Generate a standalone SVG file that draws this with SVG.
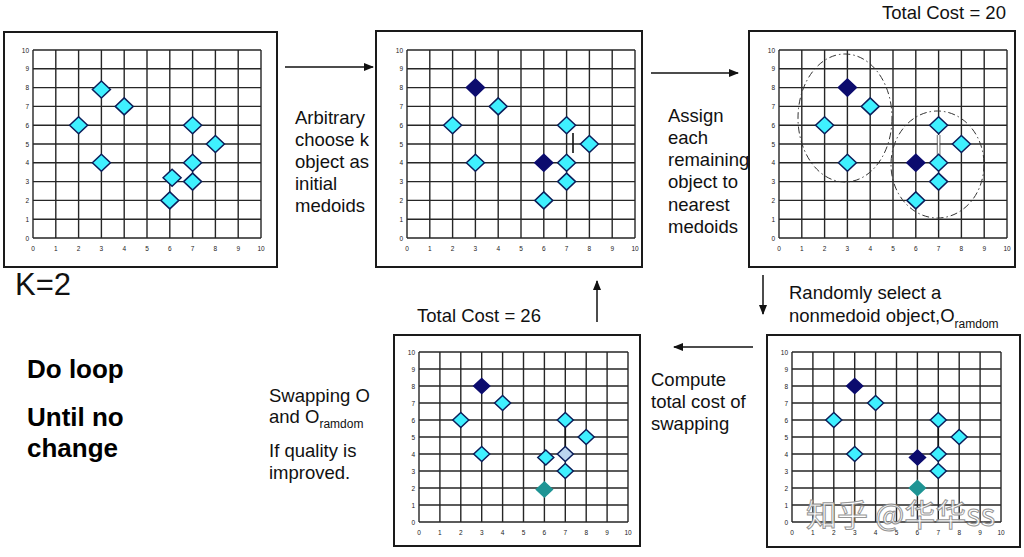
<svg xmlns="http://www.w3.org/2000/svg" xmlns:xlink="http://www.w3.org/1999/xlink" width="1024" height="557" viewBox="0 0 1024 557">
<style>
.f{fill:#fff;stroke:#1a1a1a;stroke-width:2}
.g{fill:none;stroke:#262626;stroke-width:1.4}
.tk{font-family:"Liberation Sans",Arial,sans-serif;font-size:6.5px;fill:#222}
.ya{text-anchor:end}
.xa{text-anchor:middle}
.cy{fill:#3ff0ff;stroke:#0b1e5a;stroke-width:1.5}
.nv{fill:#0c0c6e;stroke:#0c0c6e;stroke-width:1.5}
.tl{fill:#1e9494;stroke:#1e9494;stroke-width:1.5}
.lb{fill:#bcd6f0;stroke:#0b1e5a;stroke-width:1.5}
.t{font-family:"Liberation Sans",Arial,sans-serif;font-size:18.5px;fill:#111}
.s{font-size:12px}
.b{font-family:"Liberation Sans",Arial,sans-serif;font-weight:bold;font-size:26px;fill:#000}
.ar{fill:none;stroke:#111;stroke-width:1.5;marker-end:url(#ah)}
.el{fill:none;stroke:#333;stroke-width:1;stroke-dasharray:7 3 1.5 3}
.mk{stroke:#111;stroke-width:1.6}
.wm{font-family:"Noto Sans CJK SC",sans-serif;font-size:31px;fill:#fff;stroke:#8a8a8a;stroke-width:1;opacity:0.9}
</style>
<defs>
<marker id="ah" markerWidth="10" markerHeight="8" refX="9" refY="4" orient="auto" markerUnits="userSpaceOnUse">
<path d="M0,0 L10,4 L0,8 Z" fill="#111"/>
</marker>
<path id="dB" d="M0,-8.5 L9,0 L0,8.5 L-9,0 Z"/>
<path id="dS" d="M0,-7.5 L8,0 L0,7.5 L-8,0 Z"/>
<g id="gridB">
<path class="g" d="M0,0V188M22.8,0V188M45.6,0V188M68.4,0V188M91.2,0V188M114,0V188M136.8,0V188M159.6,0V188M182.4,0V188M205.2,0V188M228,0V188M0,0H228M0,18.8H228M0,37.6H228M0,56.4H228M0,75.2H228M0,94H228M0,112.8H228M0,131.6H228M0,150.4H228M0,169.2H228M0,188H228"/>
<g class="tk ya">
<text x="-4" y="2.5">10</text><text x="-4" y="21.3">9</text><text x="-4" y="40.1">8</text><text x="-4" y="58.9">7</text><text x="-4" y="77.7">6</text><text x="-4" y="96.5">5</text><text x="-4" y="115.3">4</text><text x="-4" y="134.1">3</text><text x="-4" y="152.9">2</text><text x="-4" y="171.7">1</text><text x="-4" y="190.5">0</text>
</g>
<g class="tk xa">
<text x="0" y="201">0</text><text x="22.8" y="201">1</text><text x="45.6" y="201">2</text><text x="68.4" y="201">3</text><text x="91.2" y="201">4</text><text x="114" y="201">5</text><text x="136.8" y="201">6</text><text x="159.6" y="201">7</text><text x="182.4" y="201">8</text><text x="205.2" y="201">9</text><text x="228" y="201">10</text>
</g>
</g>
<g id="gridS">
<path class="g" d="M0,0V170M20.9,0V170M41.8,0V170M62.7,0V170M83.6,0V170M104.5,0V170M125.4,0V170M146.3,0V170M167.2,0V170M188.1,0V170M209,0V170M0,0H209M0,17H209M0,34H209M0,51H209M0,68H209M0,85H209M0,102H209M0,119H209M0,136H209M0,153H209M0,170H209"/>
<g class="tk ya">
<text x="-4" y="2.5">10</text><text x="-4" y="19.5">9</text><text x="-4" y="36.5">8</text><text x="-4" y="53.5">7</text><text x="-4" y="70.5">6</text><text x="-4" y="87.5">5</text><text x="-4" y="104.5">4</text><text x="-4" y="121.5">3</text><text x="-4" y="138.5">2</text><text x="-4" y="155.5">1</text><text x="-4" y="172.5">0</text>
</g>
<g class="tk xa">
<text x="0" y="183">0</text><text x="20.9" y="183">1</text><text x="41.8" y="183">2</text><text x="62.7" y="183">3</text><text x="83.6" y="183">4</text><text x="104.5" y="183">5</text><text x="125.4" y="183">6</text><text x="146.3" y="183">7</text><text x="167.2" y="183">8</text><text x="188.1" y="183">9</text><text x="209" y="183">10</text>
</g>
</g>
</defs>

<rect width="1024" height="557" fill="#fff"/>

<g id="panel-initial">
<rect class="f" x="4" y="32" width="273" height="235"/>
<use xlink:href="#gridB" x="33" y="50"/>
<use xlink:href="#dB" class="cy" x="78.6" y="125.2"/>
<use xlink:href="#dB" class="cy" x="101.4" y="89.5"/>
<use xlink:href="#dB" class="cy" x="124.2" y="106.4"/>
<use xlink:href="#dB" class="cy" x="101.4" y="162.8"/>
<use xlink:href="#dB" class="cy" x="192.6" y="125.2"/>
<use xlink:href="#dB" class="cy" x="215.4" y="144"/>
<use xlink:href="#dB" class="cy" x="192.6" y="162.8"/>
<use xlink:href="#dB" class="cy" x="172.1" y="177.8"/>
<use xlink:href="#dB" class="cy" x="192.6" y="181.6"/>
<use xlink:href="#dB" class="cy" x="169.8" y="200.4"/>
</g>

<g id="panel-medoids">
<rect class="f" x="376" y="31" width="266" height="236"/>
<use xlink:href="#gridB" x="407" y="50"/>
<line class="mk" x1="573" y1="133" x2="573" y2="153"/>
<use xlink:href="#dB" class="nv" x="475.4" y="87.6"/>
<use xlink:href="#dB" class="cy" x="498.2" y="106.4"/>
<use xlink:href="#dB" class="cy" x="452.6" y="125.2"/>
<use xlink:href="#dB" class="cy" x="475.4" y="162.8"/>
<use xlink:href="#dB" class="nv" x="543.8" y="162.8"/>
<use xlink:href="#dB" class="cy" x="566.6" y="125.2"/>
<use xlink:href="#dB" class="cy" x="589.4" y="144"/>
<use xlink:href="#dB" class="cy" x="566.6" y="162.8"/>
<use xlink:href="#dB" class="cy" x="566.6" y="181.6"/>
<use xlink:href="#dB" class="cy" x="543.8" y="200.4"/>
</g>

<g id="panel-assign">
<rect class="f" x="749" y="31" width="266" height="236"/>
<use xlink:href="#gridB" x="779" y="50"/>
<line x1="937.3" y1="135" x2="937.3" y2="155" stroke="#333" stroke-width="0.8"/>
<line x1="939.9" y1="135" x2="939.9" y2="155" stroke="#333" stroke-width="0.8"/>
<line x1="938.6" y1="135" x2="938.6" y2="155" stroke="#fff" stroke-width="1.6"/>
<ellipse class="el" cx="845" cy="118" rx="47" ry="64"/>
<ellipse class="el" cx="937.5" cy="164.5" rx="46.5" ry="53.5"/>
<use xlink:href="#dB" class="nv" x="847.4" y="87.6"/>
<use xlink:href="#dB" class="cy" x="870.2" y="106.4"/>
<use xlink:href="#dB" class="cy" x="824.6" y="125.2"/>
<use xlink:href="#dB" class="cy" x="847.4" y="162.8"/>
<use xlink:href="#dB" class="nv" x="915.8" y="162.8"/>
<use xlink:href="#dB" class="cy" x="938.6" y="125.2"/>
<use xlink:href="#dB" class="cy" x="961.4" y="144"/>
<use xlink:href="#dB" class="cy" x="938.6" y="162.8"/>
<use xlink:href="#dB" class="cy" x="938.6" y="181.6"/>
<use xlink:href="#dB" class="cy" x="915.8" y="200.4"/>
</g>

<g id="panel-random">
<rect class="f" x="767" y="335" width="253" height="212"/>
<use xlink:href="#gridS" x="792" y="352"/>
<line class="mk" x1="938.3" y1="425" x2="938.3" y2="450" stroke-width="2.5"/>
<use xlink:href="#dS" class="nv" x="854.7" y="386"/>
<use xlink:href="#dS" class="cy" x="875.6" y="403"/>
<use xlink:href="#dS" class="cy" x="833.8" y="420"/>
<use xlink:href="#dS" class="cy" x="854.7" y="454"/>
<use xlink:href="#dS" class="cy" x="938.3" y="420"/>
<use xlink:href="#dS" class="cy" x="959.2" y="437"/>
<use xlink:href="#dS" class="cy" x="938.3" y="454"/>
<use xlink:href="#dS" class="nv" x="917.5" y="457.5"/>
<use xlink:href="#dS" class="cy" x="938.3" y="471"/>
<use xlink:href="#dS" class="tl" x="917.4" y="488"/>
</g>

<g id="panel-swap">
<rect class="f" x="394" y="335" width="246" height="211"/>
<use xlink:href="#gridS" x="419" y="352"/>
<line class="mk" x1="565.3" y1="425" x2="565.3" y2="450" stroke-width="2.5"/>
<use xlink:href="#dS" class="nv" x="481.7" y="386"/>
<use xlink:href="#dS" class="cy" x="502.6" y="403"/>
<use xlink:href="#dS" class="cy" x="460.8" y="420"/>
<use xlink:href="#dS" class="cy" x="481.7" y="454"/>
<use xlink:href="#dS" class="cy" x="565.3" y="420"/>
<use xlink:href="#dS" class="cy" x="586.2" y="437"/>
<use xlink:href="#dS" class="lb" x="565.3" y="454"/>
<use xlink:href="#dS" class="cy" x="545.8" y="457.5"/>
<use xlink:href="#dS" class="cy" x="565.3" y="471"/>
<use xlink:href="#dS" class="tl" x="544.4" y="489.5"/>
</g>

<g id="connectors">
<path class="ar" d="M285,67 H373"/>
<path class="ar" d="M651,73 H738"/>
<path class="ar" d="M763,275 V314"/>
<path class="ar" d="M753,347 H674"/>
<path class="ar" d="M597,322 V281"/>
</g>

<g id="labels">
<text class="t" x="882" y="19">Total Cost = 20</text>
<text class="t" x="417" y="322">Total Cost = 26</text>
<text class="t" x="295"><tspan x="295" y="124">Arbitrary</tspan><tspan x="295" y="146">choose k</tspan><tspan x="295" y="168">object as</tspan><tspan x="295" y="190">initial</tspan><tspan x="295" y="212">medoids</tspan></text>
<text class="t" x="668"><tspan x="668" y="122">Assign</tspan><tspan x="668" y="144">each</tspan><tspan x="668" y="166">remaining</tspan><tspan x="668" y="188">object to</tspan><tspan x="668" y="211">nearest</tspan><tspan x="668" y="233">medoids</tspan></text>
<text class="t" x="789" y="299">Randomly select a</text>
<text class="t" x="789" y="322">nonmedoid object,O<tspan class="s" dy="6">ramdom</tspan></text>
<text class="t" x="651"><tspan x="651" y="386">Compute</tspan><tspan x="651" y="408">total cost of</tspan><tspan x="651" y="430">swapping</tspan></text>
<text class="t" x="269" y="402">Swapping O</text>
<text class="t" x="269" y="423">and O<tspan class="s" dy="5">ramdom</tspan></text>
<text class="t" x="269"><tspan x="269" y="457">If quality is</tspan><tspan x="269" y="479">improved.</tspan></text>
<text class="t" x="15" y="295" style="font-size:31px">K=2</text>
<text class="b" x="27" y="378">Do loop</text>
<text class="b" x="27" y="426">Until no</text>
<text class="b" x="27" y="457">change</text>
<text class="wm" x="806" y="526">知乎 @华华ss</text>
</g>
</svg>
